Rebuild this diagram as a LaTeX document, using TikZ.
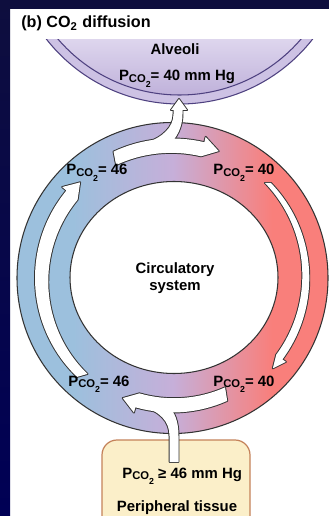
\documentclass[tikz,border=0pt]{standalone}
\usepackage{fontspec}
\setmainfont{Liberation Sans}

\definecolor{bleuanneau}{HTML}{9CC0DD}
\definecolor{mauveanneau}{HTML}{C6AFD9}
\definecolor{rougeanneau}{HTML}{F97F7B}
\definecolor{alvbord}{HTML}{CDC2E4}
\definecolor{alvhaut}{HTML}{DDD5ED}
\definecolor{alvbas}{HTML}{BFB1DA}
\definecolor{alvtrait}{HTML}{4E4180}
\definecolor{tissufond}{HTML}{FBEFC9}
\definecolor{tissutrait}{HTML}{C4825A}
\definecolor{fondnuit}{HTML}{0E0E3E}
\definecolor{bleuvif}{HTML}{0000C8}
\definecolor{bleusombre}{HTML}{000055}
\definecolor{trait}{HTML}{333333}

% degrade de l'anneau
\pgfdeclarehorizontalshading{anneaudeg}{100bp}{color(0bp)=(bleuanneau); color(34bp)=(bleuanneau);
  color(50bp)=(mauveanneau); color(66bp)=(rougeanneau); color(100bp)=(rougeanneau)}

% P avec indice CO2
\newcommand{\pco}{P\raisebox{-1pt}{\fontsize{6.4}{7}\selectfont CO\raisebox{-2.6pt}{\fontsize{5}{6}\selectfont 2}}}

% fleche epaisse le long d'un arc : depart, base tete, pointe, rayon, demi-largeur, demi-tete
\newcommand{\flecharc}[7][]{%
  \path[#1] (#2:{#5+#6}) arc[start angle=#2, end angle=#3, radius={#5+#6}]
    -- (#3:{#5+#7}) -- (#4:#5) -- (#3:{#5-#7})
    arc[start angle=#3, end angle=#2, radius={#5-#6}] -- cycle;}

\begin{document}
\begin{tikzpicture}[x=0.02cm, y=0.02cm]
  % Styles
  \tikzset{
    txt/.style={font=\fontsize{8.5}{10}\selectfont\bfseries, inner sep=0pt},
    titre/.style={font=\fontsize{9.2}{11}\selectfont\bfseries, inner sep=0pt},
    contour/.style={draw=trait, line width=1.1pt, line join=round},
    blanc/.style={fill=white},
    anneau/.style={draw=trait, line width=0.6pt},
  }

  % Cadre
  \useasboundingbox (0,0) rectangle (329,-516);
  \fill[white] (0,0) rectangle (329,-516);
  \fill[fondnuit] (0,0) rectangle (329,-9);
  \shade[top color=fondnuit, middle color=bleuvif, bottom color=bleusombre] (0,0) rectangle (10,-516);

  % Titre
  \node[titre, anchor=base west] (titre) at (21,-28) {(b) CO\textsubscript{2} diffusion};

  % Alveoles
  \coordinate (alv) at (179.5,65);
  \begin{scope}
    \clip (10,-40) rectangle (329,-130);
    \fill[alvbord] (alv) circle (169);
    \begin{scope}
      \clip (alv) circle (160);
      \shade[top color=alvhaut, bottom color=alvbas] (10,-40) rectangle (329,-96);
    \end{scope}
    \draw[alvtrait, line width=0.6pt] (alv) circle (169) (alv) circle (160);
  \end{scope}

  % Anneau circulatoire
  \coordinate (centre) at (172.5,-278);
  \coordinate (trou) at (174,-277.5);
  \shade[shading=anneaudeg] (centre) circle (155.5);
  \fill[white] (trou) ellipse [x radius=104, y radius=96];
  \draw[anneau] (centre) circle (155.5);
  \draw[anneau] (trou) ellipse [x radius=104, y radius=96];

  % Tissu peripherique
  \draw[fill=tissufond, draw=tissutrait, line width=0.7pt, rounded corners=3mm] (102,-440) rectangle (250,-545);

  % Fleches : contour puis remplissage
  \foreach \style in {contour, blanc} {
    \begin{scope}[shift={(centre)}]
      \flecharc[\style]{115}{76.8}{70}{135}{4.5}{10}
      \flecharc[\style]{226}{140.5}{134}{133}{4.5}{10}
      \flecharc[\style]{294}{254}{247.5}{130}{4.5}{10}
      \flecharc[\style]{44}{-36.5}{-42}{135}{1.8}{6}
    \end{scope}
    \path[\style] (173.5,-110) -- (173.5,-114) .. controls (173.5,-127) and (163,-137) .. (146,-143)
      -- (168,-146) .. controls (177,-138) and (182.5,-127) .. (182.5,-114)
      -- (182.5,-110) -- (187,-110) -- (179,-99) -- (171,-110) -- cycle;
    \path[\style] (169.5,-462) -- (169.5,-436) .. controls (169.5,-421) and (160,-412) .. (142,-406)
      -- (168,-406) .. controls (175,-412) and (178.5,-422) .. (178.5,-436) -- (178.5,-462) -- cycle;
  }

  % Textes
  \node[txt, anchor=base] (alvtxt) at (175,-55) {Alveoli};
  \node[txt, anchor=base] (alvp) at (177,-81) {\pco= 40 mm Hg};
  \node[txt, anchor=base west] (hg) at (66,-175) {\pco= 46};
  \node[txt, anchor=base west] (hd) at (213,-175) {\pco= 40};
  \node[txt, anchor=base west] (bg) at (68,-386) {\pco= 46};
  \node[txt, anchor=base west] (bd) at (213,-386) {\pco= 40};
  \node[txt, anchor=base, align=center] (circ) at (175,-291) {Circulatory\\system};
  \node[txt, anchor=base west] (tisp) at (122,-478) {\pco{} ≥ 46 mm Hg};
  \node[txt, anchor=base] (tis) at (177,-511) {Peripheral tissue};

\end{tikzpicture}
\end{document}
